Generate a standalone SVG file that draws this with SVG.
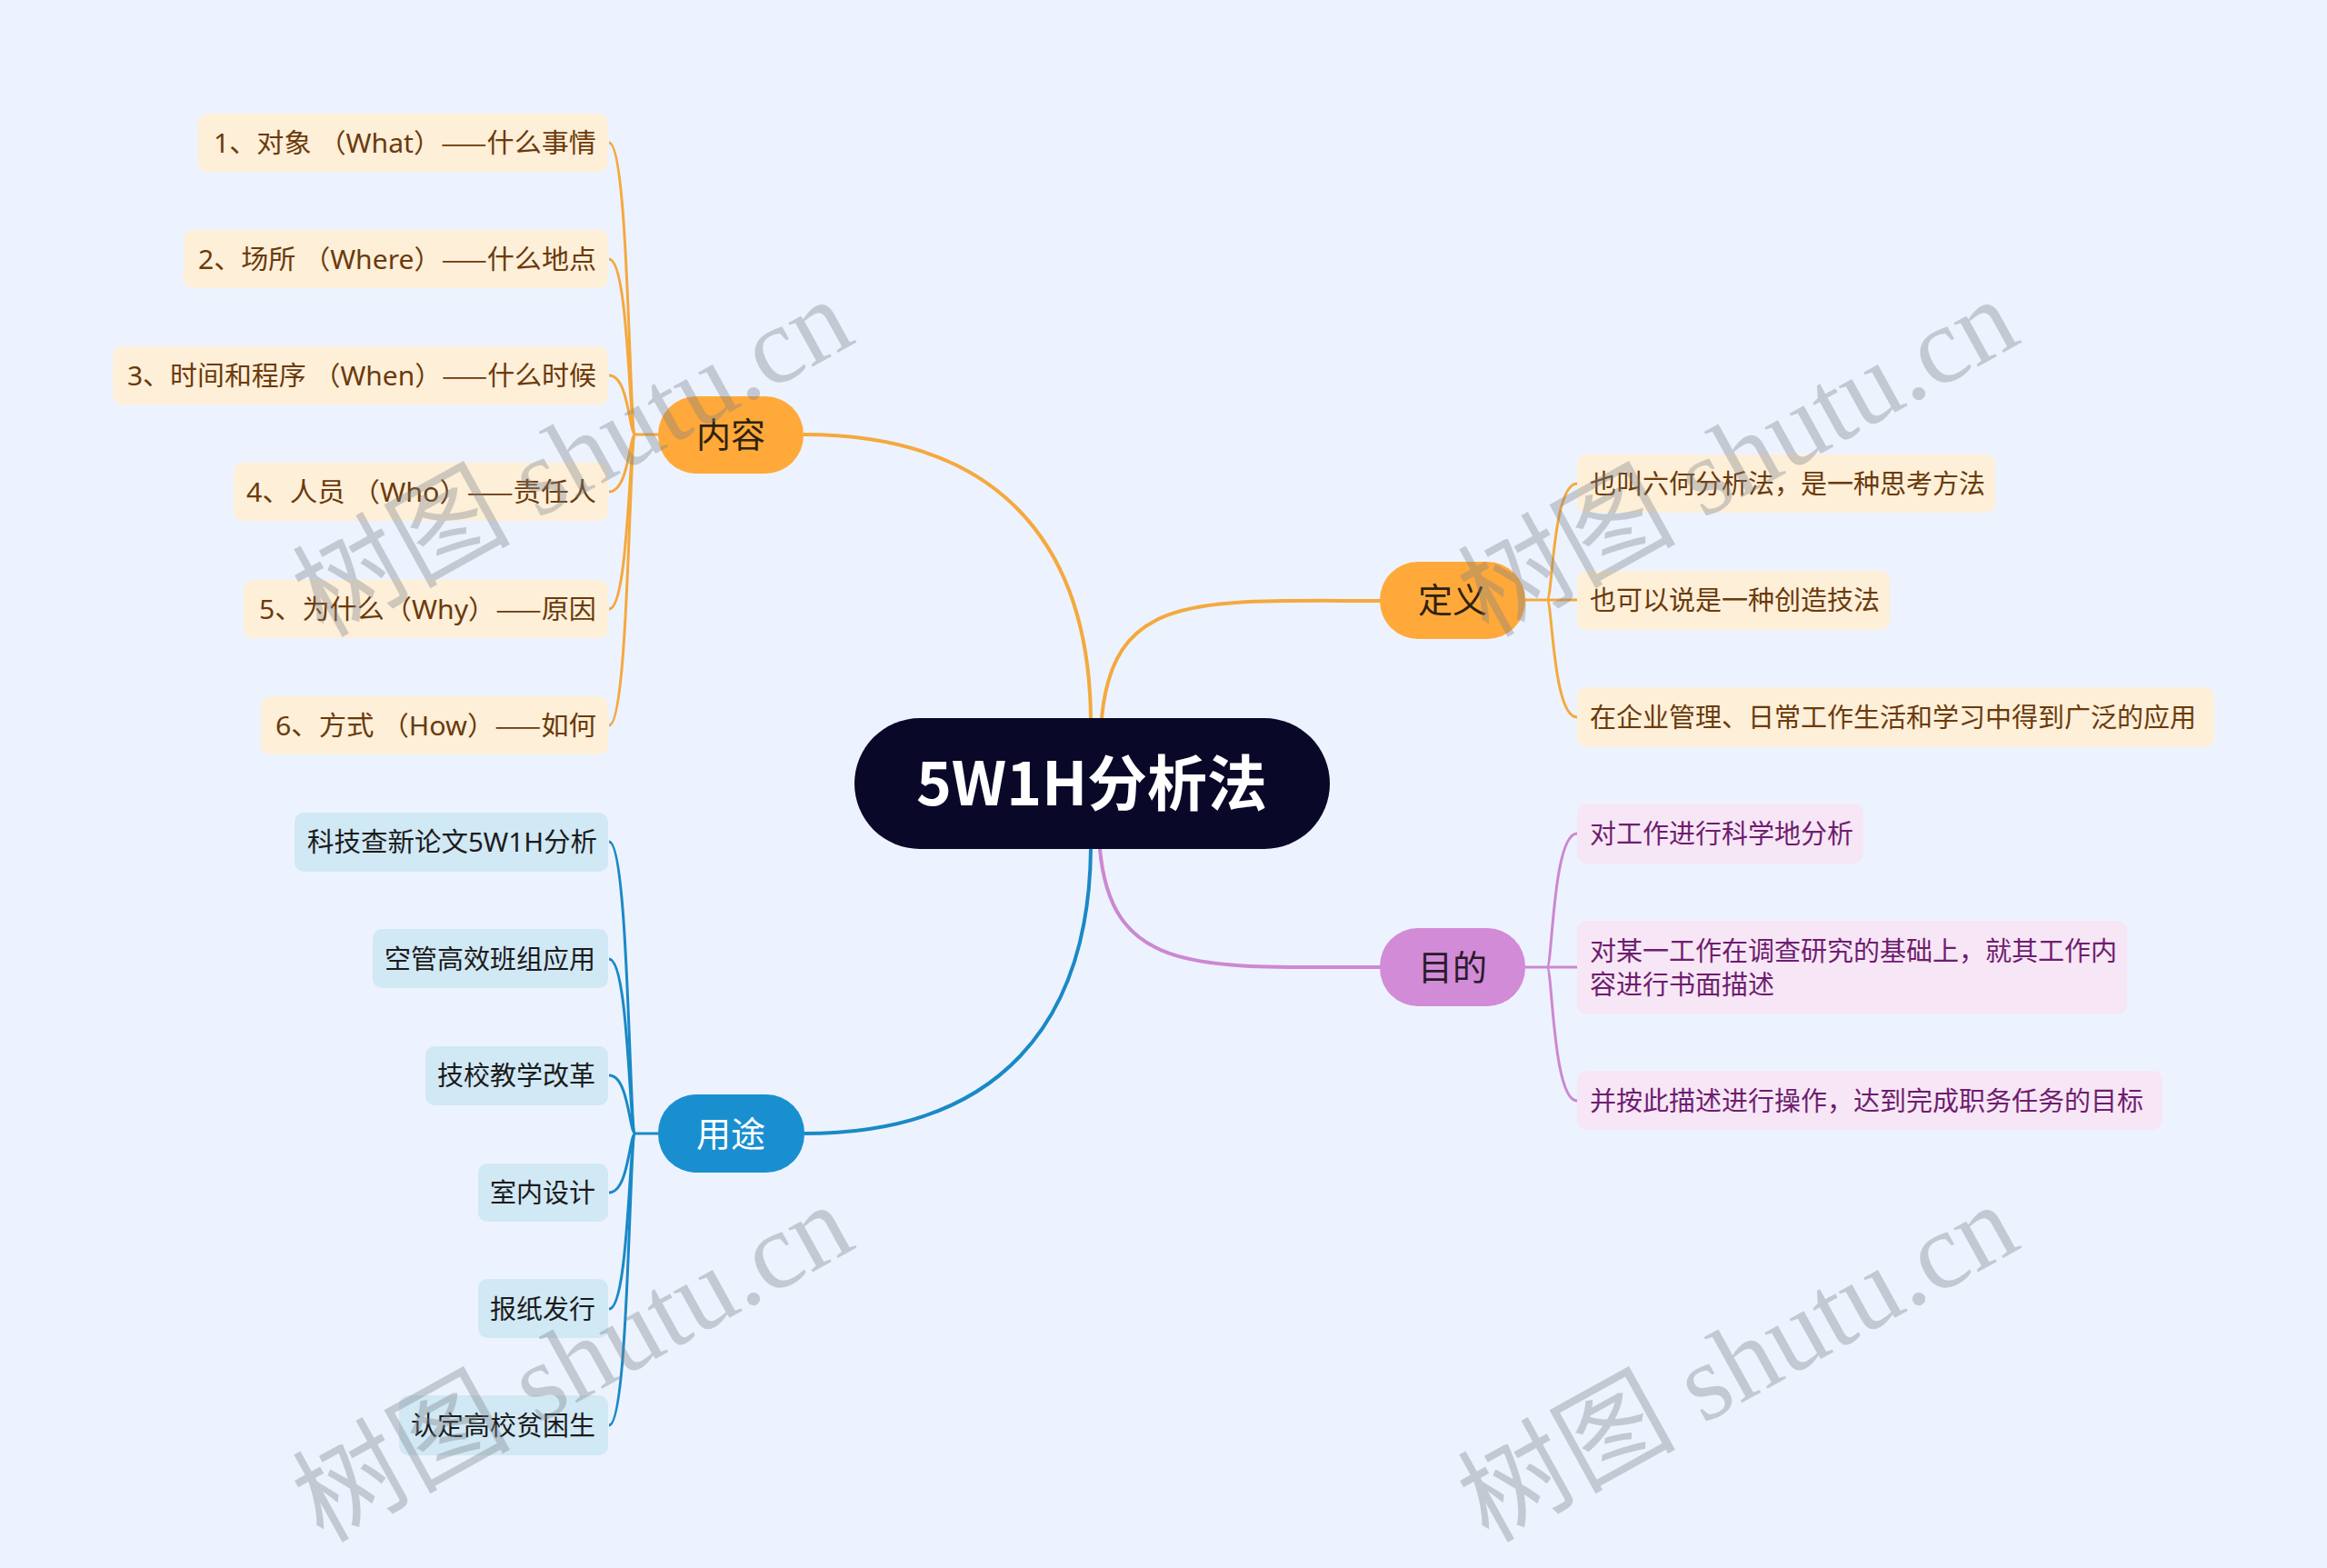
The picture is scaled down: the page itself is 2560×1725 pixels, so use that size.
<svg xmlns="http://www.w3.org/2000/svg" width="2560" height="1725" viewBox="0 0 2560 1725">
<style>
text{font-family:"Noto Sans CJK SC","Microsoft YaHei",sans-serif;}
.leaf{font-size:29px;font-family:"Noto Sans","Noto Sans CJK SC",sans-serif;}
.dash{font-family:"Noto Sans CJK SC",sans-serif;}
.or-box{fill:#FDEFD8;}
.or-txt{fill:#6B3A0C;}
.pu-box{fill:#F7E6F5;}
.pu-txt{fill:#6E1D70;}
.bl-box{fill:#D1E8F5;}
.bl-txt{fill:#1B1B1B;}
.br{font-size:38px;}
.c-or{fill:none;stroke:#F4A93F;}
.c-pu{fill:none;stroke:#CC88D0;}
.c-bl{fill:none;stroke:#1A89C6;}
.main{stroke-width:4;}
.sub{stroke-width:3;}
.wm{font-family:"Liberation Serif","Noto Sans CJK SC",serif;font-size:120px;fill:#7a7f88;fill-opacity:0.36;}
</style>
<rect width="2560" height="1725" fill="#EDF3FE"/>

<g id="connectors">
  <path class="c-or main" d="M 884 478 C 1100 478, 1198 600, 1200 790"/>
  <path class="c-or main" d="M 1212 790 C 1225 650, 1320 661, 1518 661"/>
  <path class="c-pu main" d="M 1210 934 C 1223 1074, 1320 1064, 1518 1064"/>
  <path class="c-bl main" d="M 885 1247 C 1100 1247, 1198 1124, 1200 934"/>
  <!-- 内容 children -->
  <path class="c-or sub" d="M 724 478 L 699 478"/>
  <path class="c-or sub" d="M 699 478 C 692 478, 692 157, 670 157"/>
  <path class="c-or sub" d="M 699 478 C 692 478, 692 285, 670 285"/>
  <path class="c-or sub" d="M 699 478 C 692 478, 692 413, 670 413"/>
  <path class="c-or sub" d="M 699 478 C 692 478, 692 541, 670 541"/>
  <path class="c-or sub" d="M 699 478 C 692 478, 692 670, 670 670"/>
  <path class="c-or sub" d="M 699 478 C 692 478, 692 798, 670 798"/>
  <!-- 用途 children -->
  <path class="c-bl sub" d="M 724 1247 L 699 1247"/>
  <path class="c-bl sub" d="M 699 1247 C 692 1247, 692 926, 670 926"/>
  <path class="c-bl sub" d="M 699 1247 C 692 1247, 692 1055, 670 1055"/>
  <path class="c-bl sub" d="M 699 1247 C 692 1247, 692 1183, 670 1183"/>
  <path class="c-bl sub" d="M 699 1247 C 692 1247, 692 1312, 670 1312"/>
  <path class="c-bl sub" d="M 699 1247 C 692 1247, 692 1440, 670 1440"/>
  <path class="c-bl sub" d="M 699 1247 C 692 1247, 692 1568, 670 1568"/>
  <!-- 定义 children -->
  <path class="c-or sub" d="M 1678 660 L 1702 660"/>
  <path class="c-or sub" d="M 1702 660 C 1708 660, 1708 532, 1735 532"/>
  <path class="c-or sub" d="M 1702 660 L 1735 660"/>
  <path class="c-or sub" d="M 1702 660 C 1708 660, 1708 789, 1735 789"/>
  <!-- 目的 children -->
  <path class="c-pu sub" d="M 1678 1064 L 1702 1064"/>
  <path class="c-pu sub" d="M 1702 1064 C 1708 1064, 1708 917, 1735 917"/>
  <path class="c-pu sub" d="M 1702 1064 L 1735 1064"/>
  <path class="c-pu sub" d="M 1702 1064 C 1708 1064, 1708 1211, 1735 1211"/>
</g>

<g id="root">
  <rect x="940" y="790" width="523" height="144" rx="72" fill="#0A0829"/>
  <text x="1201" y="886" text-anchor="middle" font-size="66" font-weight="bold" fill="#FFFFFF">5W1H分析法</text>
</g>

<g id="b-neirong">
  <rect x="724" y="436" width="160" height="85" rx="42" fill="#FFA93A"/>
  <text class="br" x="804" y="492" text-anchor="middle" fill="#2E2210">内容</text>
</g>
<g id="b-dingyi">
  <rect x="1518" y="618" width="160" height="85" rx="42" fill="#FFA93A"/>
  <text class="br" x="1598" y="674" text-anchor="middle" fill="#2E2210">定义</text>
</g>
<g id="b-mudi">
  <rect x="1518" y="1021" width="160" height="86" rx="42" fill="#D28BD6"/>
  <text class="br" x="1598" y="1078" text-anchor="middle" fill="#2B1A2C">目的</text>
</g>
<g id="b-yongtu">
  <rect x="724" y="1204" width="161" height="86" rx="42" fill="#1A8FD0"/>
  <text class="br" x="804" y="1261" text-anchor="middle" fill="#FFFFFF">用途</text>
</g>

<g id="n-nr1"><rect class="or-box" x="218" y="125" width="451" height="64" rx="10"/><text class="leaf or-txt" x="656" y="168" text-anchor="end" textLength="421" lengthAdjust="spacingAndGlyphs">1、对象 （What）<tspan class="dash">——</tspan>什么事情</text></g>
<g id="n-nr2"><rect class="or-box" x="202" y="253" width="467" height="64" rx="10"/><text class="leaf or-txt" x="656" y="296" text-anchor="end" textLength="438" lengthAdjust="spacingAndGlyphs">2、场所 （Where）<tspan class="dash">——</tspan>什么地点</text></g>
<g id="n-nr3"><rect class="or-box" x="124" y="381" width="545" height="64" rx="10"/><text class="leaf or-txt" x="656" y="424" text-anchor="end" textLength="516" lengthAdjust="spacingAndGlyphs">3、时间和程序 （When）<tspan class="dash">——</tspan>什么时候</text></g>
<g id="n-nr4"><rect class="or-box" x="257" y="509" width="412" height="64" rx="10"/><text class="leaf or-txt" x="656" y="552" text-anchor="end" textLength="385" lengthAdjust="spacingAndGlyphs">4、人员 （Who）<tspan class="dash">——</tspan>责任人</text></g>
<g id="n-nr5"><rect class="or-box" x="268" y="638" width="401" height="64" rx="10"/><text class="leaf or-txt" x="656" y="681" text-anchor="end" textLength="371" lengthAdjust="spacingAndGlyphs">5、为什么（Why）<tspan class="dash">——</tspan>原因</text></g>
<g id="n-nr6"><rect class="or-box" x="287" y="766" width="382" height="64" rx="10"/><text class="leaf or-txt" x="656" y="809" text-anchor="end" textLength="353" lengthAdjust="spacingAndGlyphs">6、方式 （How）<tspan class="dash">——</tspan>如何</text></g>

<g id="n-yt1"><rect class="bl-box" x="324" y="894" width="345" height="65" rx="10"/><text class="leaf bl-txt" x="657" y="937" text-anchor="end" textLength="319" lengthAdjust="spacingAndGlyphs">科技查新论文5W1H分析</text></g>
<g id="n-yt2"><rect class="bl-box" x="410" y="1022" width="259" height="65" rx="10"/><text class="leaf bl-txt" x="655" y="1066" text-anchor="end">空管高效班组应用</text></g>
<g id="n-yt3"><rect class="bl-box" x="468" y="1151" width="201" height="65" rx="10"/><text class="leaf bl-txt" x="655" y="1194" text-anchor="end">技校教学改革</text></g>
<g id="n-yt4"><rect class="bl-box" x="526" y="1280" width="143" height="64" rx="10"/><text class="leaf bl-txt" x="655" y="1323" text-anchor="end">室内设计</text></g>
<g id="n-yt5"><rect class="bl-box" x="526" y="1407" width="143" height="65" rx="10"/><text class="leaf bl-txt" x="655" y="1451" text-anchor="end">报纸发行</text></g>
<g id="n-yt6"><rect class="bl-box" x="439" y="1535" width="230" height="66" rx="10"/><text class="leaf bl-txt" x="655" y="1579" text-anchor="end">认定高校贫困生</text></g>

<g id="n-dy1"><rect class="or-box" x="1735" y="500" width="460" height="64" rx="10"/><text class="leaf or-txt" x="1749" y="543">也叫六何分析法，是一种思考方法</text></g>
<g id="n-dy2"><rect class="or-box" x="1735" y="628" width="344" height="65" rx="10"/><text class="leaf or-txt" x="1749" y="671">也可以说是一种创造技法</text></g>
<g id="n-dy3"><rect class="or-box" x="1735" y="756" width="701" height="66" rx="10"/><text class="leaf or-txt" x="1749" y="800">在企业管理、日常工作生活和学习中得到广泛的应用</text></g>

<g id="n-md1"><rect class="pu-box" x="1735" y="884" width="315" height="66" rx="10"/><text class="leaf pu-txt" x="1749" y="928">对工作进行科学地分析</text></g>
<g id="n-md2"><rect class="pu-box" x="1735" y="1013" width="605" height="103" rx="10"/><text class="leaf pu-txt" x="1749" y="1057">对某一工作在调查研究的基础上，就其工作内</text><text class="leaf pu-txt" x="1749" y="1094">容进行书面描述</text></g>
<g id="n-md3"><rect class="pu-box" x="1735" y="1178" width="644" height="65" rx="10"/><text class="leaf pu-txt" x="1749" y="1222">并按此描述进行操作，达到完成职务任务的目标</text></g>

<g id="watermarks">
  <text class="wm" x="355" y="702" transform="rotate(-29 355 702)">树图 shutu.cn</text>
  <text class="wm" x="1637" y="702" transform="rotate(-29 1637 702)">树图 shutu.cn</text>
  <text class="wm" x="355" y="1698" transform="rotate(-29 355 1698)">树图 shutu.cn</text>
  <text class="wm" x="1637" y="1698" transform="rotate(-29 1637 1698)">树图 shutu.cn</text>
</g>
</svg>
